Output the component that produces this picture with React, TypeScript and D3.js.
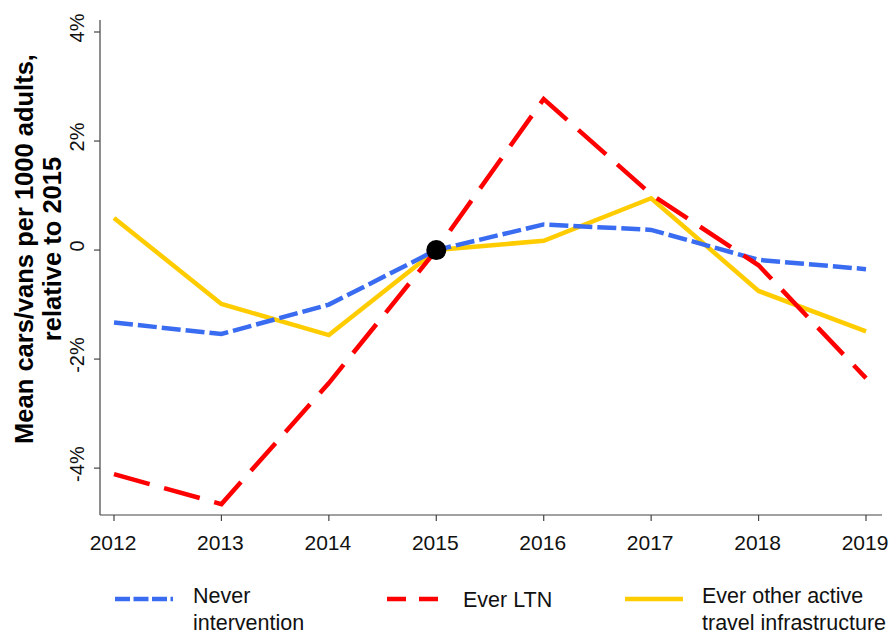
import React from "react";
import * as d3 from "d3";

const years = [2012, 2013, 2014, 2015, 2016, 2017, 2018, 2019];
const neverIntervention = [-1.33, -1.54, -1.0, 0, 0.47, 0.37, -0.18, -0.35];
const everLTN = [-4.11, -4.66, -2.44, 0, 2.77, 1.02, -0.28, -2.35];
const everOther = [0.59, -0.99, -1.56, 0, 0.17, 0.95, -0.75, -1.49];
const yTicks = [-4, -2, 0, 2, 4];
const yTickLabels = ["-4%", "-2%", "0", "2%", "4%"];

const W = 893, H = 635;

export default function App() {
  const x = d3.scaleLinear().domain([2012, 2019]).range([114, 866]);
  const y = d3.scaleLinear().domain([-4.86, 4.22]).range([515, 20]);
  const line = (vals: number[]) =>
    d3.line<number>().x((_, i) => x(years[i])).y((v) => y(v))(vals) || "";

  const series = [
    { name: ["Never", "intervention"], vals: neverIntervention, color: "#3A6CF2", dash: "19 5", ldash: "15 3.5", lx: 115, tx: 193 },
    { name: ["Ever LTN"], vals: everLTN, color: "#FF0000", dash: "37 15", ldash: "19 13", lx: 387, tx: 463 },
    { name: ["Ever other active", "travel infrastructure"], vals: everOther, color: "#FFCC00", dash: "", ldash: "", lx: 625, tx: 702 },
  ];
  const font = "Liberation Sans, Arial, sans-serif";

  return (
    <svg width={W} height={H} style={{ position: "absolute", left: 0, top: 0, background: "#fff" }} fontFamily={font}>
      <rect width={W} height={H} fill="#fff" />
      {/* axes */}
      <line x1={100} x2={100} y1={20} y2={515} stroke="#444" strokeWidth={1.2} />
      <line x1={100} x2={882} y1={515} y2={515} stroke="#444" strokeWidth={1.2} />
      {yTicks.map((t, i) => (
        <g key={t}>
          <line x1={94} x2={100} y1={y(t)} y2={y(t)} stroke="#444" strokeWidth={1.2} />
          <text transform={`translate(84,${y(t) - 4}) rotate(-90)`} textAnchor="middle" fontSize={20} fill="#111">
            {yTickLabels[i]}
          </text>
        </g>
      ))}
      {years.map((yr) => (
        <g key={yr}>
          <line x1={x(yr)} x2={x(yr)} y1={515} y2={521} stroke="#444" strokeWidth={1.2} />
          <text x={x(yr) - 1} y={550} textAnchor="middle" fontSize={21} fill="#111">{yr}</text>
        </g>
      ))}
      {/* title */}
      <text transform={`translate(33,249) rotate(-90)`} textAnchor="middle" fontSize={25.5} fontWeight="bold" fill="#000">
        Mean cars/vans per 1000 adults,
      </text>
      <text transform={`translate(61,249) rotate(-90)`} textAnchor="middle" fontSize={25.5} fontWeight="bold" fill="#000">
        relative to 2015
      </text>
      {/* lines */}
      {[series[2], series[0], series[1]].map((s) => (
        <path key={s.name[0]} d={line(s.vals)} fill="none" stroke={s.color} strokeWidth={4.5}
          strokeDasharray={s.dash || undefined} strokeLinejoin="miter" />
      ))}
      <circle cx={x(2015)} cy={y(0)} r={10} fill="#000" />
      {/* legend */}
      {series.map((s) => (
        <g key={"lg" + s.name[0]}>
          <line x1={s.lx} x2={s.lx + 58} y1={599} y2={599} stroke={s.color} strokeWidth={4.5}
            strokeDasharray={s.ldash || undefined} />
          {s.name.map((n, j) => (
            <text key={n} x={s.tx} y={s.name.length === 1 ? 607 : 603 + j * 27} fontSize={21.5} fill="#111">{n}</text>
          ))}
        </g>
      ))}
    </svg>
  );
}
